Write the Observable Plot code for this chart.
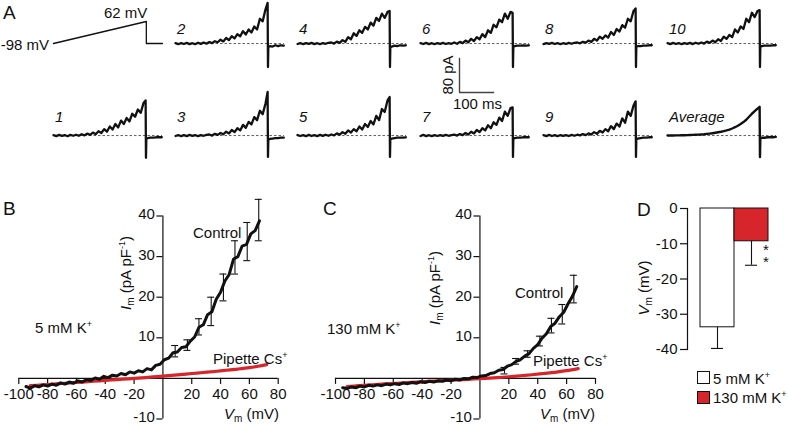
<!DOCTYPE html>
<html><head><meta charset="utf-8">
<script src="https://cdn.jsdelivr.net/npm/d3@7"></script>
<script src="https://cdn.jsdelivr.net/npm/@observablehq/plot@0.6"></script>
<style>
html,body{margin:0;padding:0;background:#fff;}
#fig{position:relative;width:788px;height:425px;overflow:hidden;font-family:"Liberation Sans",Arial,Helvetica,sans-serif;color:#111;background:#fff;}
.lbl{position:absolute;white-space:nowrap;font-size:15px;line-height:15px;}
.lbl sub{font-size:10px;vertical-align:-3px;line-height:0;}
.lbl sup{font-size:9px;vertical-align:6px;line-height:0;}
.sq{position:absolute;width:11px;height:11px;border:1px solid #111;}
.stars{position:absolute;writing-mode:vertical-rl;text-orientation:upright;font-size:15px;line-height:15px;letter-spacing:-5px;}
</style></head><body><div id="fig"></div>
<script>
// ---------------- DATA ----------------
// Panel A: time samples (ms) shared by all current traces
const traceTimes = [...d3.range(0, 257, 8), 262, 263, 264, 268, 276, 284, 292, 300, 308];
// Voltage command (mV)
const rampTimes = [0, 264, 264, 310];
const rampValues = [-98, 62, -98, -98];
// Current traces (pA), one value per traceTimes entry
const trace1 = [1,-1.2,1.5,-0.8,1.2,-1.5,1.5,-0.5,2,-0.5,3,0.5, 4.5,1.5,7,3,10,6,15,9,21,14,27,19,35,27,41,33,51,44,61,53,76, 82,-52,-8,-6,-5,-5,-4,-4,-4];
const trace2 = [1,-1.5,1.2,-1,1.5,-1.2,0.8,-1.5,2,-0.8,2.5,-0.2, 3.5,1,5.5,3,9,5,13,8,17,12,22,17,29,21,33,26,40,33,58,52,80, 95,-55,-8,-6,-7,-4,-6,-4,-5];
const trace3 = [-1,1.2,-1.5,1,-1.2,1.5,-0.8,1.2,-1.5,1,-0.5,1.5, 2.5,0,4,1.5,6,3,9,5,13,8,17,12,25,18,32,26,43,36,58,50,75, 102,-50,-10,-8,-7,-6,-6,-5,-5];
const trace4 = [-1,1.2,-1.5,1,-0.8,1.5,-1.2,0.8,-1.5,1.2,-0.5,1.8, 2.5,0,4.5,1.5,8,4,15,10,24,18,31,25,39,33,49,42,60,53,70,60,74, 76,-55,-9,-7,-5,-6,-4,-5,-4];
const trace5 = [1.2,-1,1,-1.5,1.5,-1,0.8,-1.2,1.5,-0.8,2,-0.5, 2.5,0.5,5,2,8,4,12,7,15,10,21,14,27,20,34,26,46,36,62,55,82, 90,-50,-9,-7,-6,-5,-5,-5,-4];
const trace6 = [1,-1,1.5,-1.2,0.8,-1.5,1.2,-0.8,1.5,-1,1.2,-0.6, 2.5,-0.5,4,1,7,3,11,6,15,10,22,15,31,25,44,38,56,50,70,58,74, 72,-55,-7,-6,-5,-5,-4,-5,-4];
const trace7 = [-1,1.5,-1.2,0.8,-1.5,1,-1,1.2,-0.8,1.5,-0.5,1.2, 2,0,3.5,1,6,2.5,9,5,13,8,17,12,24,17,31,25,42,34,56,46,64, 66,-50,-7,-6,-5,-5,-4,-4,-4];
const trace8 = [-1.2,1,-0.8,1.5,-1,1.2,-1.5,0.8,-1,1.5,-0.5,1.8, 2.5,0.5,4,2,7,4,11,7,16,11,19,14,27,20,34,28,43,37,58,52,76, 82,-55,-8,-6,-6,-5,-5,-4,-4];
const trace9 = [1,-1.2,1.5,-1,1,-1.5,1.2,-0.8,1.2,-1,1.5,-0.5, 2,0.5,3.5,1,5,2.5,8,4,11,7,15,10,22,15,28,21,40,30,56,46,70, 80,-50,-9,-7,-6,-5,-5,-4,-4];
const trace10 = [0.8,-1.2,1.5,-1,1.2,-1.5,1,-0.8,1.5,-1.2,2,-0.5, 2.5,0,4.5,1.5,7,3,10,6,16,11,20,15,33,26,40,34,58,50,72,62,76, 78,-55,-7,-6,-5,-5,-5,-4,-4];
const traceAverage = [0,0.2,0.3,0.4,0.5,0.6,0.8,1,1.2,1.5,1.8,2.1, 2.5,3,3.8,4.6,5.5,6.5,7.6,8.8,10.2,12,14,16.5,19.5,23,27,31.5,37,44,51,57,63, 67,-50,-6,-5,-5,-4,-4,-4,-3];
const traceNames = ["1","2","3","4","5","6","7","8","9","10","Average"];
const scaleBarPA = 80, scaleBarMs = 100;

// Panels B & C: I-V relations
const ivVoltages = d3.range(-95, 68, 3);
const bControl = [-2.0,-2.4,-1.8,-2.1,-1.6,-1.9,-1.4,-1.7,-1.1,-1.4,-0.9,-1.2,-0.6,-0.9,-0.3,-0.5,0.1,-0.2,0.5,0.2,0.8,0.6,1.2,0.9,1.6,1.3,1.9,1.6,2.4,2.1,3.2,3.5,4.6,5.0,6.3,6.5,7.6,7.8,9.2,10.2,12.6,13.2,15.7,16.4,19.5,21.2,24.0,25.6,29.4,30.0,32.6,33.0,35.6,36.4,38.8];
const cControl = [-2.3,-2.5,-2.1,-2.3,-1.9,-2.1,-1.7,-1.9,-1.6,-1.8,-1.4,-1.6,-1.3,-1.5,-1.1,-1.3,-1.0,-1.2,-0.8,-1.0,-0.7,-0.9,-0.6,-0.7,-0.4,-0.6,-0.2,-0.4,0.0,-0.1,0.3,0.2,0.6,0.7,1.2,1.4,2.0,2.2,3.0,3.4,4.2,4.6,5.5,6.1,7.4,8.3,9.9,11.0,12.8,13.6,15.2,16.3,18.4,20.2,22.6];
const bCsV = [-92,-84,-76,-68,-60,-52,-44,-36,-28,-20,-12,-4,4,12,20,28,36,44,52,60,66,72];
const bCs = [-1.8,-1.6,-1.4,-1.2,-1.0,-0.8,-0.6,-0.4,-0.2,0.0,0.2,0.45,0.7,0.95,1.2,1.45,1.7,2.0,2.3,2.65,3.0,3.4];
const cCsV = [-92,-84,-76,-68,-60,-52,-44,-36,-28,-20,-12,-4,4,12,20,28,36,44,52,60,68];
const cCs = [-2.0,-1.8,-1.6,-1.4,-1.25,-1.1,-0.9,-0.75,-0.6,-0.45,-0.3,-0.15,0.0,0.2,0.4,0.65,0.9,1.2,1.5,1.9,2.4];
const bErrV = [8.5,17,25,33.5,42,50,58.5,66.5];
const bErrMean = [6.7,8.2,12.7,16.5,22.4,29.8,33.7,39.0];
const bErrSem = [1.4,1.3,2.0,3.5,3.3,4.1,4.7,5.1];
const cErrV = [17,25,33,41.5,49.5,57,65];
const cErrMean = [1.9,4.2,6.0,9.2,13.0,15.8,22.0];
const cErrSem = [0.8,0.7,0.8,1.2,1.8,2.4,3.4];
const ivXTicks = [-100,-80,-60,-40,-20,20,40,60,80];
const ivYTicks = [-10,10,20,30,40];

// Panel D: resting potential
const dConditions = ["5 mM K+", "130 mM K+"];
const dMeans = [-33.7, -9.3];
const dSem = [6.0, 6.8];
const dYTicks = [0,-10,-20,-30,-40];

// ---------------- DRAW ----------------
const INK = "#111";
const RED = "#d7262b";
const FONT = "'Liberation Sans', Arial, Helvetica, sans-serif";
const svgStyle = `background: transparent; overflow: visible; font-family: ${FONT}; font-size: 15px; color: ${INK};`;
const fig = document.getElementById("fig");

function place(node, left, top) {
  const w = document.createElement("div");
  w.style.position = "absolute"; w.style.left = left + "px"; w.style.top = top + "px";
  w.appendChild(node); fig.appendChild(w); return w;
}
function label(html, x, y, opts = {}) {
  const {anchor = "start", size = 15, italic = false, rotate = 0, lineHeight = size} = opts;
  const el = document.createElement("div");
  el.className = "lbl";
  el.innerHTML = html;
  el.style.left = x + "px"; el.style.top = y + "px";
  el.style.fontSize = size + "px"; el.style.lineHeight = lineHeight + "px";
  if (italic) el.style.fontStyle = "italic";
  if (anchor === "middle") el.style.textAlign = "center";
  const tx = anchor === "start" ? "0" : anchor === "middle" ? "-50%" : "-100%";
  el.style.transform = `translate(${tx}, -50%)` + (rotate ? ` rotate(${rotate}deg)` : "");
  fig.appendChild(el);
}

// Panel A layout
const colLeft = [53, 175, 297, 420, 543, 667];
const rowBase = [43, 135];
const traceW = 109, traceH = 77;
const tDomain = [0, 310], iDomain = [-70, 110];
const topOffset = iDomain[1] / (iDomain[1] - iDomain[0]) * traceH;
const traces = [trace1,trace2,trace3,trace4,trace5,trace6,trace7,trace8,trace9,trace10,traceAverage];
const slots = [[0,1],[1,0],[1,1],[2,0],[2,1],[3,0],[3,1],[4,0],[4,1],[5,0],[5,1]];

traces.forEach((vals, k) => {
  const [c, r] = slots[k];
  const data = traceTimes.map((t, i) => ({t, v: vals[i]}));
  const p = Plot.plot({
    width: traceW, height: traceH, margin: 0,
    x: {domain: tDomain, axis: null}, y: {domain: iDomain, axis: null},
    style: svgStyle,
    marks: [
      Plot.ruleY([0], {x1: tDomain[0], x2: tDomain[1], stroke: "#333", strokeWidth: 0.8, strokeDasharray: "2.5,2"}),
      Plot.line(data, {x: "t", y: "v", stroke: INK, strokeWidth: k === 10 ? 2.4 : 2.3, strokeLinejoin: "round"})
    ]
  });
  place(p, colLeft[c], rowBase[r] - topOffset);
  label(traceNames[k], colLeft[c] + 2, r === 0 ? 28 : 115.5, {italic: true});
});

// voltage command
{
  const data = rampTimes.map((t, i) => ({t, v: rampValues[i]}));
  const p = Plot.plot({
    width: traceW, height: 22, margin: 0,
    x: {domain: tDomain, axis: null}, y: {domain: [-98, 62], axis: null},
    style: svgStyle,
    marks: [Plot.line(data, {x: "t", y: "v", stroke: INK, strokeWidth: 1.3})]
  });
  place(p, colLeft[0], 21);
  label("-98 mV", 49, 43.7, {anchor: "end"});
  label("62 mV", 104, 12.3);
}
// scale bar
{
  const p = Plot.plot({
    width: traceW, height: traceH, margin: 0,
    x: {domain: tDomain, axis: null}, y: {domain: iDomain, axis: null},
    style: svgStyle,
    marks: [
      Plot.ruleX([0], {y1: 0, y2: scaleBarPA, stroke: "#444", strokeWidth: 1.4}),
      Plot.ruleY([0], {x1: 0, x2: scaleBarMs, stroke: "#444", strokeWidth: 1.4})
    ]
  });
  place(p, 459, 92 - topOffset);
  label(scaleBarPA + " pA", 447, 75, {anchor: "middle", rotate: -90});
  label(scaleBarMs + " ms", 477.5, 102.5, {anchor: "middle"});
}
label("A", 3, 11.5, {size: 19});

// Panels B and C
function ivPanel(cfg) {
  const ctrl = ivVoltages.map((v, i) => ({v, i: cfg.ctrl[i]}));
  const cs = cfg.csV.map((v, i) => ({v, i: cfg.cs[i]}));
  const bars = cfg.errV.map((v, i) => ({v, m: cfg.errMean[i], e: cfg.errSem[i]}));
  const lw = 1.2;
  return Plot.plot({
    width: 300, height: 235, marginLeft: cfg.ml, marginRight: cfg.mr, marginTop: 25.5, marginBottom: 6.5,
    x: {domain: [-100, 80], axis: null},
    y: {domain: [-10, 40], axis: null},
    style: svgStyle,
    marks: [
      Plot.ruleY([0], {x1: -100, x2: 80, stroke: INK, strokeWidth: lw}),
      Plot.ruleX([0], {y1: -10, y2: 40, stroke: INK, strokeWidth: lw}),
      Plot.ruleX(ivXTicks, {x: d => d, y1: 0, y2: 0, insetBottom: -6, stroke: INK, strokeWidth: lw}),
      Plot.ruleY(ivYTicks, {y: d => d, x1: 0, x2: 0, insetLeft: -6, stroke: INK, strokeWidth: lw}),
      Plot.text(ivXTicks, {x: d => d, y: 0, dy: 16, text: d => String(d), fontSize: 15, fill: INK}),
      Plot.text(ivYTicks, {x: 0, y: d => d, dx: -8, dy: -1.5, textAnchor: "end", text: d => String(d), fontSize: 15, fill: INK}),
      Plot.line(cs, {x: "v", y: "i", stroke: RED, strokeWidth: 3.2, curve: "catmull-rom"}),
      Plot.line(ctrl, {x: "v", y: "i", stroke: INK, strokeWidth: 3, strokeLinejoin: "round"}),
      Plot.ruleX(bars, {x: "v", y1: d => d.m - d.e, y2: d => d.m + d.e, stroke: INK, strokeWidth: 1.1}),
      Plot.ruleY(bars, {y: d => d.m + d.e, x1: "v", x2: "v", insetLeft: -3.5, insetRight: -3.5, stroke: INK, strokeWidth: 1.1}),
      Plot.ruleY(bars, {y: d => d.m - d.e, x1: "v", x2: "v", insetLeft: -3.5, insetRight: -3.5, stroke: INK, strokeWidth: 1.1})
    ]
  });
}
place(ivPanel({ctrl: bControl, csV: bCsV, cs: bCs, errV: bErrV, errMean: bErrMean, errSem: bErrSem, ml: 18.3, mr: 22.3}), 0, 190);
place(ivPanel({ctrl: cControl, csV: cCsV, cs: cCs, errV: cErrV, errMean: cErrMean, errSem: cErrSem, ml: 25, mr: 15}), 310, 190);

const imLabel = "<i>I</i><sub>m</sub> (pA pF<sup>-1</sup>)";
const vmLabel = "<i>V</i><sub>m</sub> (mV)";
label("B", 3, 208.3, {size: 19});
label(imLabel, 125, 273, {anchor: "middle", rotate: -90});
label("Control", 193, 232);
label("5 mM K<sup>+</sup>", 35, 327);
label("Pipette Cs<sup>+</sup>", 213, 358);
label(vmLabel, 279, 413, {anchor: "end"});

label("C", 323, 207.5, {size: 19});
label(imLabel, 434, 288, {anchor: "middle", rotate: -90});
label("Control", 515, 292);
label("130 mM K<sup>+</sup>", 327, 328);
label("Pipette Cs<sup>+</sup>", 533, 360);
label(vmLabel, 595, 413, {anchor: "end"});

// Panel D
{
  const dData = dConditions.map((c, i) => ({c, m: dMeans[i], e: dSem[i]}));
  const p = Plot.plot({
    width: 168, height: 235, marginLeft: 67, marginRight: 7, marginTop: 18, marginBottom: 76,
    x: {type: "band", domain: dConditions, paddingInner: 0, paddingOuter: 0.343, axis: null},
    y: {domain: [-40, 0], axis: null},
    style: svgStyle,
    marks: [
      Plot.barY(dData.slice(0, 1), {x: "c", y: "m", fill: "white", stroke: INK, strokeWidth: 1}),
      Plot.barY(dData.slice(1, 2), {x: "c", y: "m", fill: RED, stroke: INK, strokeWidth: 1}),
      Plot.ruleX(dData, {x: "c", y1: "m", y2: d => d.m - d.e, stroke: INK, strokeWidth: 1.1}),
      Plot.tickY(dData, {x: "c", y: d => d.m - d.e, insetLeft: 11, insetRight: 11, stroke: INK, strokeWidth: 1.1}),
      Plot.axisY(dYTicks, {tickFormat: d => String(d), tickSize: 7, tickPadding: 3, fontSize: 15, label: null, strokeWidth: 1.2}),
      Plot.frame({anchor: "left", strokeWidth: 1.2})
    ]
  });
  place(p, 620, 190);
  label("D", 637, 209, {size: 19});
  label(vmLabel, 643, 288, {anchor: "middle", rotate: -90});
  const stars = document.createElement("div");
  stars.className = "stars";
  stars.textContent = "**";
  stars.style.left = "766px"; stars.style.top = "253px";
  stars.style.transform = "translate(-50%, -50%)";
  fig.appendChild(stars);
  const sq1 = document.createElement("div"); sq1.className = "sq";
  sq1.style.left = "697px"; sq1.style.top = "371px"; sq1.style.background = "white"; fig.appendChild(sq1);
  const sq2 = document.createElement("div"); sq2.className = "sq";
  sq2.style.left = "697px"; sq2.style.top = "390.5px"; sq2.style.background = RED; fig.appendChild(sq2);
  label("5 mM K<sup>+</sup>", 713, 378);
  label("130 mM K<sup>+</sup>", 713, 396.5);
}
</script></body></html>
